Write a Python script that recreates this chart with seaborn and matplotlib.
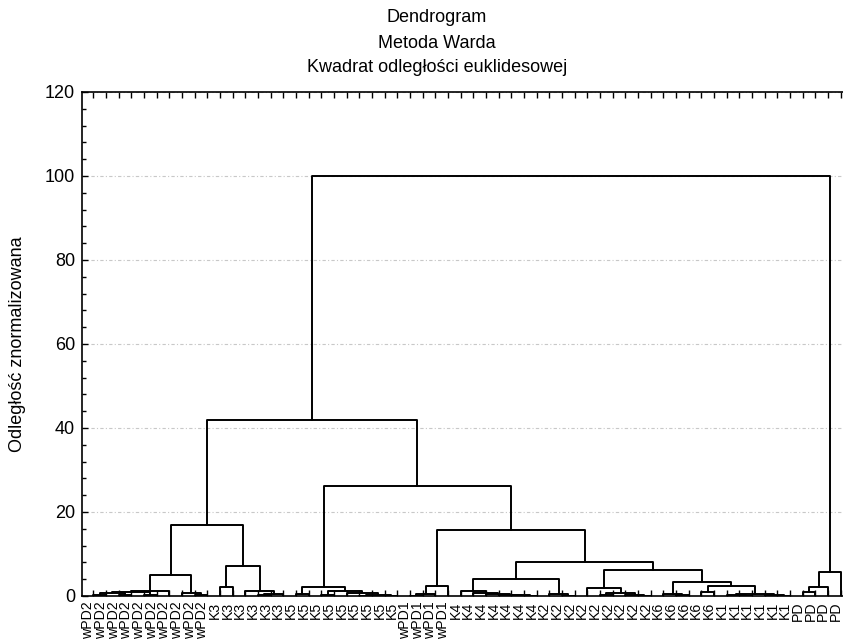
import numpy as np
import pandas as pd
import matplotlib
matplotlib.use("Agg")
import matplotlib.pyplot as plt
import matplotlib.transforms as mtransforms
from matplotlib.ticker import MultipleLocator, FixedLocator
import seaborn as sns

# ---------------- data ----------------
leaf_groups = ["wPD2", "K3", "K5", "wPD1", "K4", "K2", "K6", "K1", "PD"]
leaf_counts = [10, 6, 9, 4, 7, 9, 5, 6, 4]

# linkage table (scipy style): leaves are 0..59, merge k gets id 60+k
merge_a = [0, 2, 60, 4, 62, 64, 8, 7, 65, 10, 13, 70, 12, 69, 68,
           16, 18, 21, 23, 77, 20, 76, 75, 25, 83, 84, 34, 33, 32, 31,
           30, 29, 37, 36, 91, 43, 42, 40, 97, 39, 46, 45, 48, 51, 50,
           54, 53, 104, 102, 101, 99, 94, 85, 82, 74, 56, 115, 116, 114]
merge_b = [1, 3, 61, 5, 63, 6, 9, 66, 67, 11, 14, 15, 71, 72, 73,
           17, 19, 22, 24, 78, 79, 80, 81, 26, 27, 28, 35, 86, 87, 88,
           89, 90, 38, 92, 93, 44, 95, 41, 96, 98, 47, 100, 49, 52, 103,
           55, 105, 106, 107, 108, 109, 110, 111, 112, 113, 57, 58, 59, 117]
merge_h = [0.15, 0.3, 0.6, 0.3, 1.0, 1.2, 0.2, 0.8, 5.0, 2.1, 0.3, 0.5, 1.3, 7.2, 17.0,
           0.4, 0.3, 0.1, 0.1, 0.2, 0.7, 1.2, 2.2, 0.1, 0.4, 2.45, 0.1, 0.2, 0.3, 0.5,
           0.7, 1.2, 0.1, 0.4, 4.0, 0.05, 0.15, 0.3, 0.6, 1.8, 0.2, 0.5, 0.9, 0.1, 0.3,
           0.1, 0.2, 0.5, 2.3, 3.4, 6.2, 8.2, 15.7, 26.3, 42.0, 0.9, 2.2, 5.8, 100.0]

title_lines = ["Dendrogram", "Metoda Warda", "Kwadrat odległości euklidesowej"]
y_label = "Odległość znormalizowana"
y_ticks = [0, 20, 40, 60, 80, 100, 120]

# ---------------- build dendrogram segments ----------------
leaf_labels = [g for g, c in zip(leaf_groups, leaf_counts) for _ in range(c)]
n = len(leaf_labels)
pos = {i: float(i) for i in range(n)}
hgt = {i: 0.0 for i in range(n)}
rows = []
for k, (a, b, h) in enumerate(zip(merge_a, merge_b, merge_h)):
    xa, xb = pos[a], pos[b]
    rows += [(k, xa, hgt[a]), (k, xa, h), (k, xb, h), (k, xb, hgt[b])]
    pos[n + k] = (xa + xb) / 2.0
    hgt[n + k] = h
df = pd.DataFrame(rows, columns=["link", "x", "y"])

# ---------------- plot ----------------
sns.set_style("ticks")
plt.rcParams["font.family"] = ["Liberation Sans", "DejaVu Sans"]
for key in ["text.color", "axes.labelcolor", "xtick.color", "ytick.color",
            "axes.edgecolor"]:
    plt.rcParams[key] = "black"

W, H = 843, 641
fig = plt.figure(figsize=(W / 100, H / 100), dpi=100)
ax = fig.add_axes([82 / W, 45 / H, 770 / W, 504 / H])

sns.lineplot(data=df, x="x", y="y", units="link", estimator=None, sort=False,
             color="black", linewidth=1.4, ax=ax, legend=False)

ax.set_xlim(-0.89, n - 1 + 0.89)
ax.set_ylim(0, 120)

ax.yaxis.set_major_locator(FixedLocator(y_ticks))
ax.yaxis.set_minor_locator(MultipleLocator(4))
ax.set_yticklabels([str(t) for t in y_ticks])
ax.tick_params(axis="y", which="major", direction="in", length=4, width=1,
               labelsize=13, pad=5, left=True, right=False, colors="black")
ax.tick_params(axis="y", which="minor", direction="in", length=3, width=1,
               left=True, right=False, colors="black")

ax.set_xticks(range(n))
ax.set_xticklabels(leaf_labels, rotation=90)
ax.tick_params(axis="x", which="major", direction="in", length=4, width=1,
               labelsize=10.2, pad=4, top=True, bottom=True, colors="black")
shift = mtransforms.ScaledTranslation(-5 / 100, 0, fig.dpi_scale_trans)
for lab in ax.get_xticklabels():
    lab.set_transform(lab.get_transform() + shift)

ax.yaxis.grid(True, which="major", color="#c8c8c8", linewidth=0.8,
              linestyle=(0, (3, 2, 1, 2)))
ax.set_axisbelow(True)

for s in ax.spines.values():
    s.set_linewidth(1.2)
    s.set_color("black")

ax.set_xlabel("")
ax.set_ylabel("")
fig.text(18 / W, 1 - 344 / H, y_label, rotation=90, ha="center", va="center",
         fontsize=13, color="black")

title_y = [18, 43, 68]
for line, ty in zip(title_lines, title_y):
    fig.text(437 / W, 1 - ty / H, line, ha="center", va="center", fontsize=13,
             color="black")

fig.savefig("out.png", dpi=100)
